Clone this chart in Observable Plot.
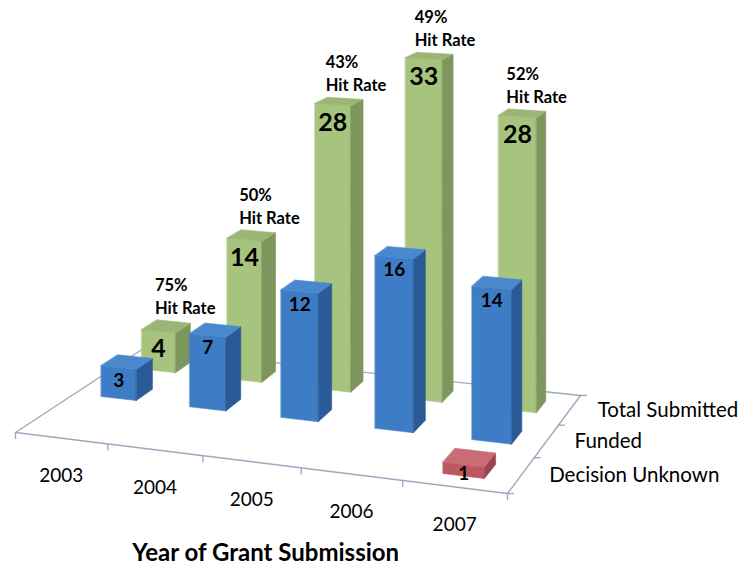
<!DOCTYPE html>
<html><head><meta charset="utf-8">
<script src="https://cdn.jsdelivr.net/npm/d3@7"></script>
<script src="https://cdn.jsdelivr.net/npm/@observablehq/plot@0.6"></script>
<style>body{margin:0;background:#fff;} svg{display:block;}</style>
</head><body><div id="chart"></div>
<script>
// ---- data ----
const years = ["2003","2004","2005","2006","2007"];
const series = ["Decision Unknown","Funded","Total Submitted"];
const decisionUnknown = [0,0,0,0,1];
const funded = [3,7,12,16,14];
const totalSubmitted = [4,14,28,33,28];
const hitRates = ["75%","50%","43%","49%","52%"];
const axisTitle = "Year of Grant Submission";

// ---- styles ----
const values = [decisionUnknown, funded, totalSubmitted];
const palette = [
  {front:"#BD5863", side:"#9A4451", top:"#C96C76"},
  {front:"#3E7DC5", side:"#2B5B97", top:"#4A88CE"},
  {front:"#A7C47F", side:"#7D965C", top:"#9BB674"}
];
const axisColor = "#A0A7BF";
const font = "Lato, 'Open Sans', sans-serif";

// ---- perspective (x in year-slot units, y in value units) ----
const nU = years.length, nV = series.length;
const floorFL=[0,0], floorFR=[nU,-5.755], floorBR=[5.742,3.491], floorBL=[1.301,7.925];
const heightScale = 1.028;
function homography(p0,p1,p2,p3){
  const [x0,y0]=p0,[x1,y1]=p1,[x2,y2]=p2,[x3,y3]=p3;
  const dx1=x1-x2, dx2=x3-x2, dx3=x0-x1+x2-x3;
  const dy1=y1-y2, dy2=y3-y2, dy3=y0-y1+y2-y3;
  const den=dx1*dy2-dx2*dy1;
  const g=(dx3*dy2-dx2*dy3)/den, h=(dx1*dy3-dx3*dy1)/den;
  const a=x1-x0+g*x1, b=x3-x0+h*x3, c=x0, d=y1-y0+g*y1, e=y3-y0+h*y3, f=y0;
  return (s,t)=>{ const w=g*s+h*t+1; return {x:(a*s+b*t+c)/w, y:(d*s+e*t+f)/w, w}; };
}
const H = homography(floorFL, floorFR, floorBR, floorBL);
function proj(u,v,h){
  const p = H(u/nU, v/nV);
  return {x:p.x, y:p.y + h*heightScale/p.w};
}

// bar faces
const faces=[]; let fid=0;
for (let j=nV-1;j>=0;j--) for (let i=0;i<nU;i++){
  const h=values[j][i]; if(!h) continue;
  const u0=i+0.3,u1=i+0.7,v0=j+0.3,v1=j+0.7;
  const quads = {
    front:[[u0,v0,0],[u1,v0,0],[u1,v0,h],[u0,v0,h]],
    side:[[u1,v0,0],[u1,v1,0],[u1,v1,h],[u1,v0,h]],
    top:[[u0,v0,h],[u1,v0,h],[u1,v1,h],[u0,v1,h]]
  };
  for (const [name,q] of Object.entries(quads)){
    fid++;
    for (const [u,v,hh] of q){ const p=proj(u,v,hh); faces.push({id:fid, x:p.x, y:p.y, fill:palette[j][name]}); }
  }
}

// floor edges
const floorLines=[];
[[0,0,nU,0],[nU,0,nU,nV],[0,0,0,nV],[0,nV,nU,nV]].forEach((e,k)=>{
  floorLines.push({id:k,...proj(e[0],e[1],0)}, {id:k,...proj(e[2],e[3],0)});
});
const frontTicks = d3.range(nU+1).map(u=>proj(u,0,0));
const sideTicks = d3.range(nV+1).map(v=>proj(nU,v,0));

const yearLabels = years.map((t,i)=>({...proj(i+0.5,0,0), text:t}));
const seriesLabels = series.map((t,j)=>({...proj(nU,j+0.5,0), text:t}));
const valueLabels = values.map((arr,j)=>arr.map((h,i)=>({...proj(i+0.5,j+0.3,h), text:String(h), h})).filter(d=>d.h>0));
const hitLabels = totalSubmitted.map((h,i)=>({...proj(i+0.3,2.7,h), text:hitRates[i]+"\nHit Rate"}));
const titleLabel = [{...proj(nU/2,0,0), text:axisTitle}];

const chart = Plot.plot({
  width:752, height:572, margin:0,
  x:{domain:[-0.1524,7.4898], axis:null},
  y:{domain:[-13.2075,40.755], axis:null},
  color:{type:"identity"},
  style:{fontFamily:font, background:"#fff"},
  marks:[
    Plot.line(floorLines,{x:"x",y:"y",z:"id",stroke:axisColor,strokeWidth:1.4}),
    Plot.ruleX(frontTicks,{x:"x",y1:"y",y2:d=>d.y-0.66,stroke:axisColor,strokeWidth:1.4}),
    Plot.ruleY(sideTicks,{y:"y",x1:"x",x2:d=>d.x+0.071,stroke:axisColor,strokeWidth:1.4}),
    Plot.line(faces,{x:"x",y:"y",z:"id",fill:"fill",stroke:"fill",strokeWidth:0.6,curve:"linear-closed"}),
    Plot.text(valueLabels[2],{x:"x",y:"y",text:"text",dy:18,fontSize:25,fontWeight:"bold",fill:"#000"}),
    Plot.text(valueLabels[1],{x:"x",y:"y",text:"text",dy:13,fontSize:19,fontWeight:"bold",fill:"#000"}),
    Plot.text(valueLabels[0],{x:"x",y:"y",text:"text",dy:9,fontSize:19,fontWeight:"bold",fill:"#000"}),
    Plot.text(hitLabels,{x:"x",y:"y",text:"text",dx:-2,dy:-6,textAnchor:"start",lineAnchor:"bottom",lineHeight:1.4,fontSize:16.5,fontWeight:"bold",fill:"#000"}),
    Plot.text(yearLabels,{x:"x",y:"y",text:"text",dy:38,fontSize:19,fill:"#000"}),
    Plot.text(seriesLabels,{x:"x",y:"y",text:"text",dx:28,textAnchor:"start",fontSize:20.5,fill:"#000"}),
    Plot.text(titleLabel,{x:"x",y:"y",text:"text",dx:14,dy:92,fontSize:24,fontWeight:"bold",fill:"#000"})
  ]
});
document.getElementById("chart").append(chart);
</script></body></html>
